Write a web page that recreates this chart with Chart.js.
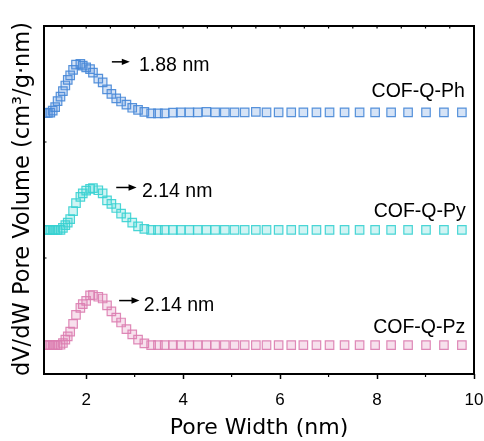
<!DOCTYPE html>
<html>
<head>
<meta charset="utf-8">
<title>Pore size distribution</title>
<script src="https://cdn.jsdelivr.net/npm/chart.js@4/dist/chart.umd.min.js"></script>
<style>
    html, body { margin: 0; padding: 0; background: #fff; }
    #psd { display: block; }
</style>
</head>
<body>
<canvas id="psd" width="484" height="441"></canvas>
<script>
// 孔径 (nm)
const poreWidth = [1.16, 1.21, 1.26, 1.31, 1.36, 1.41, 1.47, 1.52, 1.57, 1.62,
    1.67, 1.73, 1.79, 1.88, 1.93, 2.00, 2.08, 2.14, 2.25, 2.34,
    2.43, 2.52, 2.62, 2.72, 2.83, 2.95, 3.07, 3.20, 3.34, 3.48,
    3.62, 3.79, 3.95, 4.13, 4.30, 4.48, 4.66, 4.86, 5.06, 5.27,
    5.50, 5.72, 5.97, 6.23, 6.48, 6.75, 7.02, 7.33, 7.64, 7.96,
    8.29, 8.64, 9.01, 9.38, 9.75];

// dV/dW (已偏移叠放)
const cofQPh = [7.50, 7.50, 7.51, 7.57, 7.67, 7.84, 7.97, 8.13, 8.29, 8.45,
    8.58, 8.74, 8.89, 8.91, 8.86, 8.81, 8.76, 8.66, 8.49, 8.38,
    8.18, 8.05, 7.92, 7.83, 7.74, 7.65, 7.59, 7.53, 7.49, 7.49,
    7.49, 7.51, 7.52, 7.52, 7.52, 7.53, 7.52, 7.52, 7.52, 7.52,
    7.53, 7.52, 7.52, 7.52, 7.52, 7.52, 7.52, 7.52, 7.52, 7.52,
    7.52, 7.52, 7.52, 7.52, 7.52];
const cofQPy = [4.14, 4.14, 4.14, 4.14, 4.14, 4.14, 4.14, 4.20, 4.28, 4.35,
    4.45, 4.68, 4.91, 5.09, 5.19, 5.27, 5.32, 5.34, 5.28, 5.19,
    4.99, 4.89, 4.77, 4.61, 4.50, 4.35, 4.24, 4.17, 4.14, 4.14,
    4.14, 4.14, 4.14, 4.14, 4.14, 4.14, 4.14, 4.14, 4.14, 4.14,
    4.14, 4.14, 4.14, 4.14, 4.14, 4.14, 4.14, 4.14, 4.14, 4.14,
    4.14, 4.14, 4.14, 4.14, 4.14];
const cofQPz = [0.83, 0.83, 0.83, 0.83, 0.83, 0.83, 0.84, 0.89, 0.99, 1.08,
    1.22, 1.44, 1.70, 1.90, 2.01, 2.10, 2.26, 2.27, 2.22, 2.17,
    1.97, 1.80, 1.62, 1.48, 1.29, 1.14, 0.99, 0.88, 0.83, 0.83,
    0.83, 0.83, 0.83, 0.83, 0.83, 0.83, 0.83, 0.83, 0.83, 0.83,
    0.83, 0.83, 0.83, 0.83, 0.83, 0.83, 0.83, 0.83, 0.83, 0.83,
    0.83, 0.83, 0.83, 0.83, 0.83];

const seriesNames = ['COF-Q-Ph', 'COF-Q-Py', 'COF-Q-Pz'];
const peakLabels = ['1.88 nm', '2.14 nm', '2.14 nm'];
const xTicks = [2, 4, 6, 8, 10];
const xMinorTicks = [3, 5, 7, 9];
const xTopTicks = [1.5, 2, 2.5, 3, 3.5, 4, 4.5, 5, 5.5, 6, 6.5, 7, 7.5, 8, 8.5, 9, 9.5];
const yTicks = [10 / 3, 20 / 3];

const borderColors = ['rgba(70,135,215,0.9)', 'rgba(55,210,210,0.9)', 'rgba(220,125,176,0.9)'];
const fillColors = ['rgba(79,138,217,0.24)', 'rgba(63,211,211,0.24)', 'rgba(221,130,179,0.24)'];

// 箭头和标注的位置 (坐标轴单位)
const peakNotes = [
    { x1: 2.53, x2: 2.90, y: 8.97, tx: 3.09, ty: 8.72 },
    { x1: 2.62, x2: 3.04, y: 5.36, tx: 3.15, ty: 5.09 },
    { x1: 2.68, x2: 3.10, y: 2.11, tx: 3.19, ty: 1.82 }
];
const nameNotes = [
    { x: 9.81, y: 7.95 },
    { x: 9.83, y: 4.51 },
    { x: 9.82, y: 1.18 }
];

function makeDataset(values, i) {
    return {
        label: seriesNames[i],
        data: poreWidth.map((w, k) => ({ x: w, y: values[k] })),
        showLine: false,
        pointStyle: 'rect',
        pointRadius: 6,
        pointBorderWidth: 1.2,
        pointBorderColor: borderColors[i],
        pointBackgroundColor: fillColors[i]
    };
}

// 边框、短刻度、标注文字
const framePlugin = {
    id: 'frame',
    afterDatasetsDraw(chart) {
        const { ctx, chartArea: a, scales: { x, y } } = chart;
        ctx.save();
        ctx.strokeStyle = '#000';
        ctx.lineWidth = 1.2;
        ctx.beginPath();
        xMinorTicks.forEach(v => {
            const px = x.getPixelForValue(v);
            ctx.moveTo(px, a.bottom);
            ctx.lineTo(px, a.bottom + 3);
        });
        xTopTicks.forEach(v => {
            const px = x.getPixelForValue(v);
            ctx.moveTo(px, a.top);
            ctx.lineTo(px, a.top + 2.5);
        });
        yTicks.forEach(v => {
            const py = y.getPixelForValue(v);
            ctx.moveTo(a.left, py);
            ctx.lineTo(a.left + 2.5, py);
        });
        ctx.stroke();

        ctx.lineWidth = 2;
        ctx.strokeRect(a.left, a.top, a.right - a.left, a.bottom - a.top);
        ctx.restore();
    },
    afterDraw(chart) {
        const { ctx, chartArea: a, scales: { x, y } } = chart;
        ctx.save();
        ctx.fillStyle = '#000';
        ctx.strokeStyle = '#000';

        peakNotes.forEach((n, i) => {
            const x1 = x.getPixelForValue(n.x1);
            const x2 = x.getPixelForValue(n.x2);
            const py = y.getPixelForValue(n.y);
            ctx.lineWidth = 1.5;
            ctx.beginPath();
            ctx.moveTo(x1, py);
            ctx.lineTo(x2 - 5, py);
            ctx.stroke();
            ctx.beginPath();
            ctx.moveTo(x2, py);
            ctx.lineTo(x2 - 8, py - 3.2);
            ctx.lineTo(x2 - 8, py + 3.2);
            ctx.closePath();
            ctx.fill();

            ctx.font = '19.5px "Liberation Sans"';
            ctx.textAlign = 'left';
            ctx.textBaseline = 'alphabetic';
            ctx.fillText(peakLabels[i], x.getPixelForValue(n.tx), y.getPixelForValue(n.ty));
        });

        nameNotes.forEach((n, i) => {
            ctx.font = '19.5px "Liberation Sans"';
            ctx.textAlign = 'right';
            ctx.textBaseline = 'alphabetic';
            ctx.fillText(seriesNames[i], x.getPixelForValue(n.x), y.getPixelForValue(n.y));
        });

        // 纵轴标题
        ctx.translate(23, (a.top + a.bottom) / 2 - 1);
        ctx.rotate(-Math.PI / 2);
        ctx.font = '22.5px "DejaVu Sans"';
        ctx.textAlign = 'center';
        ctx.textBaseline = 'middle';
        ctx.fillText('dV/dW Pore Volume (cm³/g·nm)', 0, 0);
        ctx.restore();
    }
};

new Chart(document.getElementById('psd'), {
    type: 'scatter',
    data: {
        datasets: [makeDataset(cofQPh, 0), makeDataset(cofQPy, 1), makeDataset(cofQPz, 2)]
    },
    options: {
        responsive: false,
        animation: false,
        events: [],
        layout: { padding: { top: 26, right: 10, left: 0, bottom: 0 } },
        plugins: {
            legend: { display: false },
            tooltip: { enabled: false }
        },
        scales: {
            x: {
                type: 'linear',
                min: 1.13,
                max: 10,
                afterBuildTicks: s => { s.ticks = xTicks.map(v => ({ value: v })); },
                afterFit: s => {
                    s.height = 67;
                    s.paddingLeft = 0;
                    s.paddingRight = 0;
                },
                grid: {
                    drawOnChartArea: false,
                    tickLength: 5,
                    tickWidth: 1.5,
                    tickColor: '#000'
                },
                border: { display: false },
                ticks: {
                    color: '#000',
                    font: { family: 'Liberation Sans', size: 17 },
                    padding: 11,
                    maxRotation: 0
                },
                title: {
                    display: true,
                    text: 'Pore Width (nm)',
                    color: '#000',
                    font: { family: 'DejaVu Sans', size: 22 },
                    padding: 0
                }
            },
            y: {
                type: 'linear',
                min: 0,
                max: 10,
                afterFit: s => { s.width = 44; },
                ticks: { display: false },
                grid: { display: false },
                border: { display: false }
            }
        }
    },
    plugins: [framePlugin]
});
</script>
</body>
</html>
